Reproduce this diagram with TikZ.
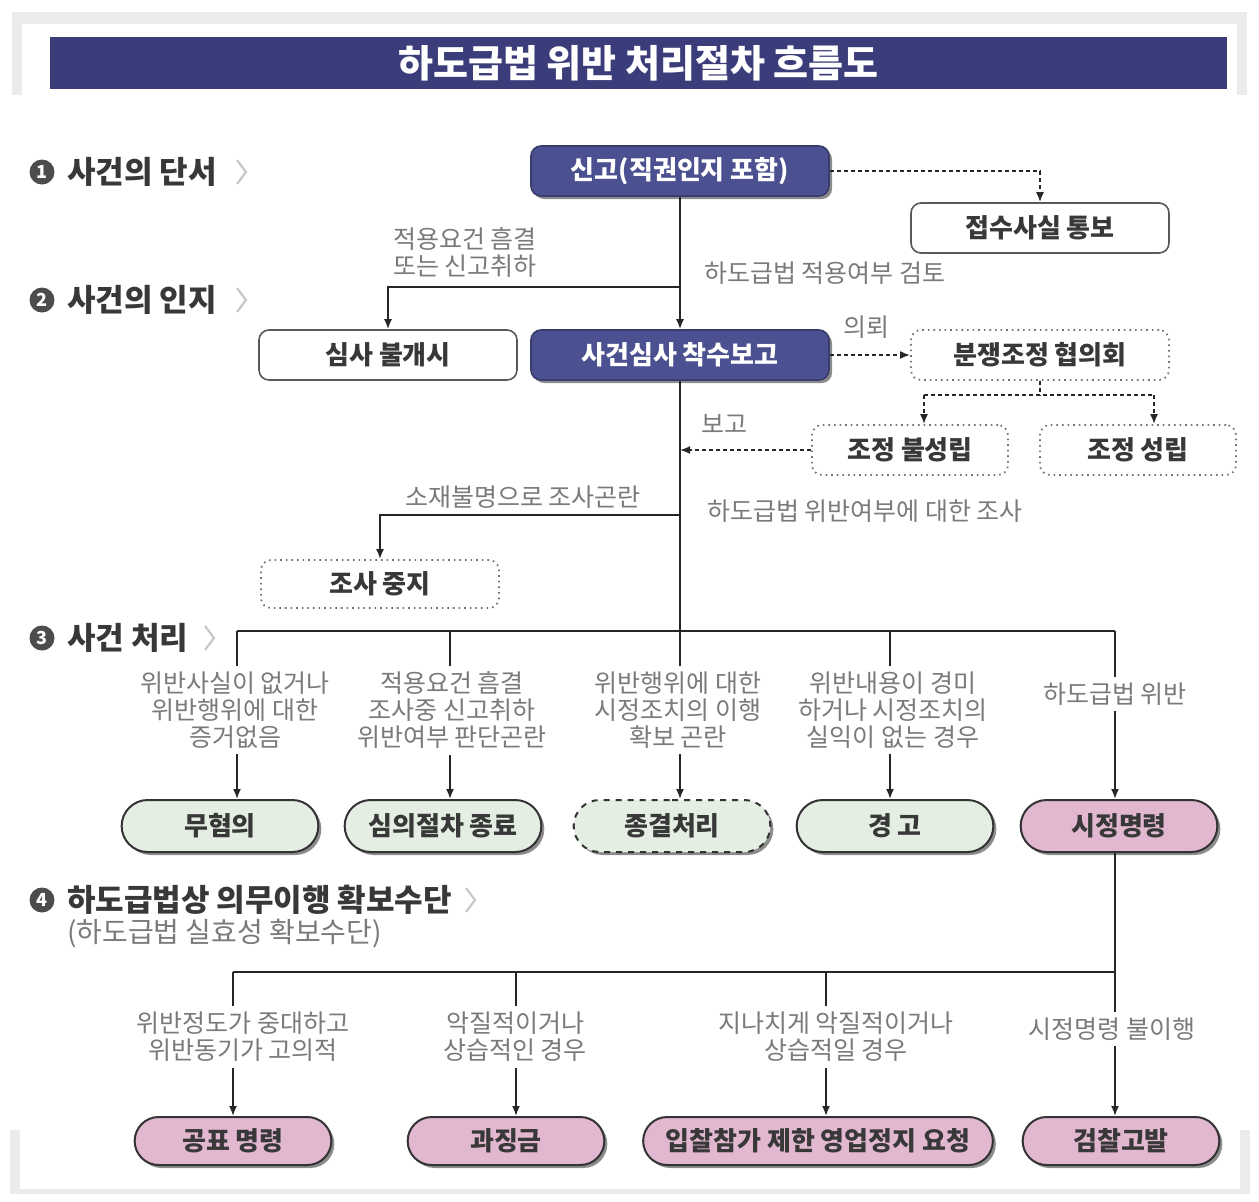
\documentclass[tikz,border=0pt]{standalone}
\usepackage{fontspec}
\setmainfont{Noto Sans CJK KR}
\usetikzlibrary{shapes.misc,arrows.meta,shadows}
\definecolor{titlenavy}{HTML}{3B3C7A}
\definecolor{boxnavy}{HTML}{4B5190}
\definecolor{greenfill}{HTML}{E4EEE3}
\definecolor{pinkfill}{HTML}{E2B8D1}
\definecolor{labelgray}{HTML}{7A7A7A}
\definecolor{darktext}{HTML}{383838}
\definecolor{framegray}{HTML}{EBEBEB}
\definecolor{chevgray}{HTML}{C8C8C8}
\begin{document}
\begin{tikzpicture}[x=0.5pt,y=-0.5pt,
 nodefont/.style={font=\bfseries\fontsize{13}{15}\selectfont},
 shadowed/.style={drop shadow={shadow xshift=1.5pt,shadow yshift=-1.5pt,opacity=0.45,fill=black}},
 navybox/.style={nodefont, shape=rectangle, rounded corners=5pt, fill=boxnavy, draw=boxnavy!75!black, line width=0.8pt, text=white, minimum width=149pt, minimum height=25pt, shadowed},
 whitebox/.style={nodefont, shape=rectangle, rounded corners=5pt, fill=white, draw=black!65, line width=0.8pt, text=darktext, minimum width=129pt, minimum height=25pt},
 dotbox/.style={whitebox, draw=black!55, dotted, line width=0.9pt},
 stadium/.style={nodefont, shape=rounded rectangle, draw=black!80, line width=1pt, text=darktext, minimum width=105pt, minimum height=26pt, shadowed},
 greennode/.style={stadium, fill=greenfill},
 pinknode/.style={stadium, fill=pinkfill},
 lab/.style={font=\fontsize{12.5}{13.5}\selectfont, text=labelgray, align=center},
 wlab/.style={lab, fill=white, inner sep=3pt},
 arr/.style={-{Latex[length=5pt,width=4pt]}},
 flow/.style={line width=0.9pt, draw=black!85},
 dline/.style={flow, dash pattern=on 2pt off 1.5pt},
 sectxt/.style={font=\bfseries\fontsize{15.5}{17}\selectfont, text=darktext, anchor=west},
 subtxt/.style={font=\fontsize{14}{16}\selectfont, text=labelgray, anchor=west},
 numc/.style={circle, fill=black!70, text=white, inner sep=0pt, minimum size=12.5pt, font=\bfseries\fontsize{9}{9}\selectfont},
 chev/.style={draw=chevgray, line width=1.1pt},
]
\useasboundingbox (0,0) rectangle (1259,1201);
\fill[white] (0,0) rectangle (1259,1201);
% frame
\fill[framegray] (12,12) rectangle (1247,95);
\fill[white] (22,24) rectangle (1237,95);
\fill[framegray] (10,1130) rectangle (20,1194);
\fill[framegray] (1240,1130) rectangle (1250,1194);
\fill[framegray] (10,1189) rectangle (1250,1194);

% title
\node[fill=titlenavy, minimum width=588.5pt, minimum height=26pt, inner sep=0pt, text=white, font=\bfseries\fontsize{19}{22}\selectfont] (title) at (638.5,63) {하도급법 위반 처리절차 흐름도};

% section labels
\node[numc] (n1c) at (42,172) {1};
\node[sectxt] (s1) at (60,172) {사건의 단서};
\draw[chev] (237,160) -- (246,172) -- (237,184);
\node[numc] (n2c) at (42,300) {2};
\node[sectxt] (s2) at (60,300) {사건의 인지};
\draw[chev] (237,288) -- (246,300) -- (237,312);
\node[numc] (n3c) at (42,638) {3};
\node[sectxt] (s3) at (60,638) {사건 처리};
\draw[chev] (205,626) -- (214,638) -- (205,650);
\node[numc] (n4c) at (42,900) {4};
\node[sectxt] (s4) at (60,900) {하도급법상 의무이행 확보수단};
\draw[chev] (466,888) -- (475,900) -- (466,912);
\node[subtxt] (s4b) at (60,934) {(하도급법 실효성 확보수단)};

% nodes
\node[navybox] (sg) at (680,171) {신고(직권인지 포함)};
\node[whitebox] (jt) at (1040,228) {접수사실 통보};
\node[whitebox] (sb) at (388,355) {심사 불개시};
\node[navybox] (sc) at (680,355) {사건심사 착수보고};
\node[dotbox] (bj) at (1040,355) {분쟁조정 협의회};
\node[dotbox, minimum width=98pt] (jb) at (910,450) {조정 불성립};
\node[dotbox, minimum width=98pt] (js) at (1138,450) {조정 성립};
\node[dotbox, minimum width=119pt, minimum height=24pt] (jj) at (380,584) {조사 중지};

\node[greennode] (r1) at (220,826) {무혐의};
\node[greennode] (r2) at (443,826) {심의절차 종료};
\node[greennode, dashed] (r3) at (672,826) {종결처리};
\node[greennode] (r4) at (895,826) {경 고};
\node[pinknode] (r5) at (1119,826) {시정명령};

\node[pinknode, minimum height=24pt] (m1) at (233,1141) {공표 명령};
\node[pinknode, minimum height=24pt] (m2) at (506,1141) {과징금};
\node[pinknode, minimum height=24pt, minimum width=181.5pt] (m3) at (818,1141) {입찰참가 제한 영업정지 요청};
\node[pinknode, minimum height=24pt] (m4) at (1121,1141) {검찰고발};

% coordinates
\coordinate (b1) at (680,287);
\coordinate (b2) at (680,515);
\coordinate (c1) at (237,631);
\coordinate (c2) at (450,631);
\coordinate (c4) at (890,631);
\coordinate (c5) at (1115,631);
\coordinate (d1) at (233,972);
\coordinate (d2) at (516,972);
\coordinate (d3) at (826,972);
\coordinate (d4) at (1115,972);
\coordinate (ja) at (924,395);
\coordinate (jc) at (1154,395);

% connectors
\draw[flow,arr] (sg) -- (sc);
\draw[flow,arr] (b1) -| (sb.north);
\draw[dline,arr] (sg.east) -| (jt.north);
\draw[dline,arr] (sc.east) -- (bj.west);
\draw[dline] (bj.south) -- (bj.south |- ja);
\draw[dline] (ja) -- (jc);
\draw[dline,arr] (ja) -- (ja |- jb.north);
\draw[dline,arr] (jc) -- (jc |- js.north);
\draw[dline,arr] (jb.west) -- (jb.west -| sc.south);
\draw[flow,arr] (sc.south) -- (sc.south |- r3.north);
\draw[flow,arr] (b2) -| (jj.north);
\draw[flow] (c1) -- (c5);
\draw[flow,arr] (c1) -- (c1 |- r1.north);
\draw[flow,arr] (c2) -- (c2 |- r2.north);
\draw[flow,arr] (c4) -- (c4 |- r4.north);
\draw[flow,arr] (c5) -- (c5 |- r5.north);
\draw[flow] (r5.south -| d4) -- (d4);
\draw[flow] (d1) -- (d4);
\draw[flow,arr] (d1) -- (d1 |- m1.north);
\draw[flow,arr] (d2) -- (d2 |- m2.north);
\draw[flow,arr] (d3) -- (d3 |- m3.north);
\draw[flow,arr] (d4) -- (d4 |- m4.north);

% labels
\node[lab] (l1) at (465,252) {적용요건 흠결\\또는 신고취하};
\node[lab, anchor=west] (l2) at (697,273) {하도급법 적용여부 검토};
\node[lab] (l3) at (866,327) {의뢰};
\node[lab] (l4) at (724,424) {보고};
\node[lab] (l5) at (523,497) {소재불명으로 조사곤란};
\node[lab, anchor=west] (l6) at (700,511) {하도급법 위반여부에 대한 조사};
\node[wlab] (k1) at (235,710) {위반사실이 없거나\\위반행위에 대한\\증거없음};
\node[wlab] (k2) at (452,710) {적용요건 흠결\\조사중 신고취하\\위반여부 판단곤란};
\node[wlab] (k3) at (678,710) {위반행위에 대한\\시정조치의 이행\\확보 곤란};
\node[wlab] (k4) at (893,710) {위반내용이 경미\\하거나 시정조치의\\실익이 없는 경우};
\node[wlab] (k5) at (1115,694) {하도급법 위반};
\node[wlab] (q1) at (243,1037) {위반정도가 중대하고\\위반동기가 고의적};
\node[wlab] (q2) at (515,1037) {악질적이거나\\상습적인 경우};
\node[wlab] (q3) at (836,1037) {지나치게 악질적이거나\\상습적일 경우};
\node[wlab] (q4) at (1112,1029) {시정명령 불이행};
\end{tikzpicture}
\end{document}
